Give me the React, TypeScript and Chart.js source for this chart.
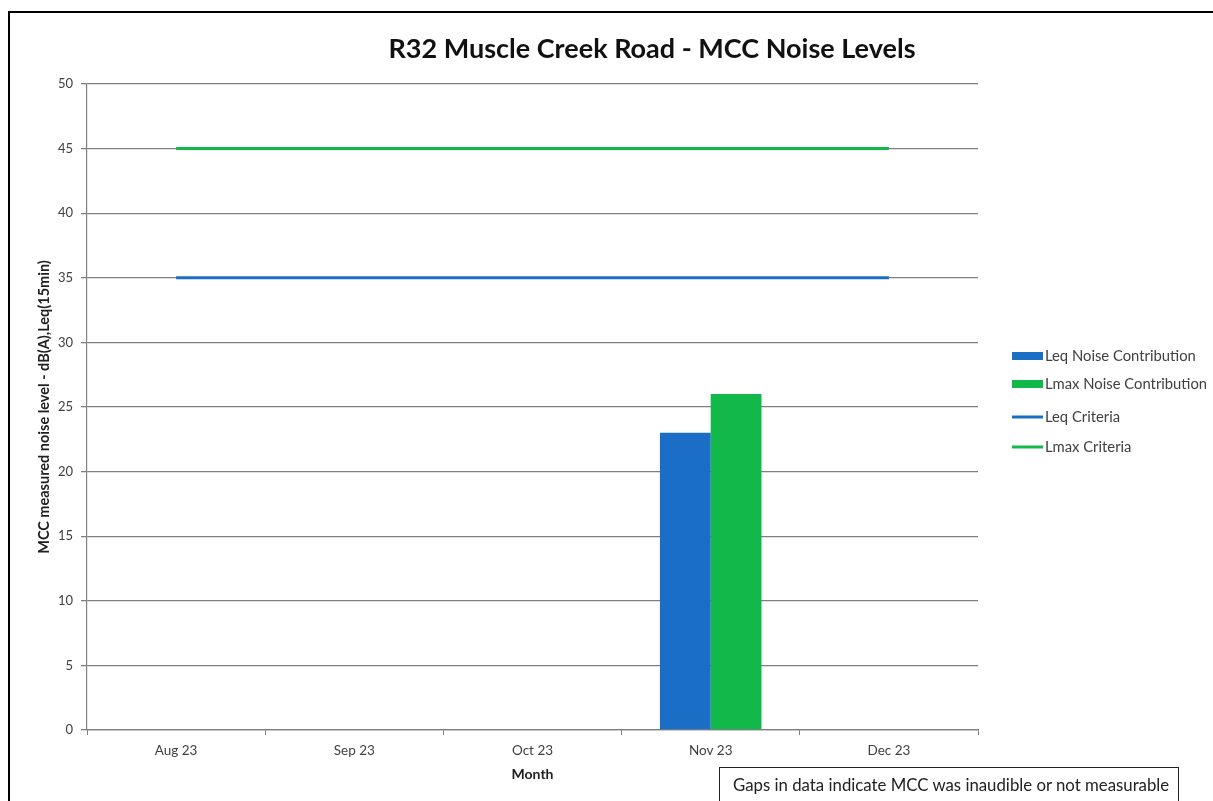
import React, { useEffect, useRef } from "react";
import { Chart, registerables } from "chart.js";

Chart.register(...registerables);

const months = ["Aug 23", "Sep 23", "Oct 23", "Nov 23", "Dec 23"];
const leqNoise = [null, null, null, 23, null];
const lmaxNoise = [null, null, null, 26, null];
const leqCriteria = [35, 35, 35, 35, 35];
const lmaxCriteria = [45, 45, 45, 45, 45];
const yTicks = [0, 5, 10, 15, 20, 25, 30, 35, 40, 45, 50];

const FONT = "Lato, 'Noto Sans', sans-serif";

const legendPlugin = {
  id: "sideLegend",
  afterDraw(chart: any) {
    const ctx = chart.ctx;
    const x0 = 1012;
    const ys = [356, 384, 417, 447];
    ctx.save();
    ctx.font = `14.8px ${FONT}`;
    ctx.textBaseline = "middle";
    chart.data.datasets.forEach((ds: any, i: number) => {
      const y = ys[i];
      if (ds.type === "line") {
        ctx.strokeStyle = ds.borderColor;
        ctx.lineWidth = 3;
        ctx.beginPath();
        ctx.moveTo(x0, y);
        ctx.lineTo(x0 + 31, y);
        ctx.stroke();
      } else {
        ctx.fillStyle = ds.backgroundColor;
        ctx.fillRect(x0, y - 4, 31, 8);
      }
      ctx.fillStyle = "#404040";
      ctx.fillText(ds.label, x0 + 33, y);
    });
    ctx.restore();
  },
};

export default function App() {
  const ref = useRef<HTMLCanvasElement | null>(null);

  useEffect(() => {
    if (!ref.current) return;
    const chart = new Chart(ref.current, {
      type: "bar",
      data: {
        labels: months,
        datasets: [
          {
            type: "bar",
            label: "Leq Noise Contribution",
            data: leqNoise,
            backgroundColor: "#1b6ec6",
            categoryPercentage: 0.57,
            barPercentage: 1.0,
            order: 2,
          },
          {
            type: "bar",
            label: "Lmax Noise Contribution",
            data: lmaxNoise,
            backgroundColor: "#13b84b",
            categoryPercentage: 0.57,
            barPercentage: 1.0,
            order: 2,
          },
          {
            type: "line",
            label: "Leq Criteria",
            data: leqCriteria,
            borderColor: "#1b6ec6",
            backgroundColor: "#1b6ec6",
            borderWidth: 3,
            pointRadius: 0,
            order: 1,
          },
          {
            type: "line",
            label: "Lmax Criteria",
            data: lmaxCriteria,
            borderColor: "#13b84b",
            backgroundColor: "#13b84b",
            borderWidth: 3,
            pointRadius: 0,
            order: 1,
          },
        ] as any,
      },
      options: {
        responsive: false,
        animation: false,
        devicePixelRatio: 1,
        layout: { padding: { top: 84, right: 235, left: 0, bottom: 0 } },
        plugins: {
          legend: { display: false },
          title: { display: false },
          tooltip: { enabled: false },
        },
        scales: {
          x: {
            offset: true,
            grid: {
              display: true,
              drawOnChartArea: false,
              offset: true,
              tickLength: 5,
              color: "#808080",
            },
            border: { color: "#808080", width: 1.2 },
            ticks: {
              color: "#404040",
              font: { family: FONT, size: 13.5 },
              padding: 8,
              maxRotation: 0,
            },
            title: {
              display: true,
              text: "Month",
              color: "#202020",
              font: { family: FONT, size: 14, weight: "bold" },
              padding: { top: 0, bottom: 18 },
            },
            afterFit: (scale: any) => {
              scale.height = 71;
            },
          },
          y: {
            min: 0,
            max: 50,
            afterBuildTicks: (scale: any) => {
              scale.ticks = yTicks.map((v) => ({ value: v }));
            },
            grid: {
              color: "#808080",
              tickLength: 6,
              lineWidth: 1.3,
            },
            border: { color: "#808080", width: 1.2 },
            ticks: {
              color: "#404040",
              font: { family: FONT, size: 13 },
              padding: 8,
            },
            title: {
              display: true,
              text: "MCC measured noise level - dB(A),Leq(15min)",
              color: "#202020",
              font: { family: FONT, size: 14.5, weight: "bold" },
              padding: { top: 36, bottom: 0 },
            },
            afterFit: (scale: any) => {
              scale.width = 87;
            },
          },
        },
      },
      plugins: [legendPlugin],
    });
    return () => chart.destroy();
  }, []);

  return (
    <div
      style={{
        position: "fixed",
        left: 0,
        top: 0,
        width: 1213,
        height: 801,
        overflow: "hidden",
        background: "#fff",
      }}
    >
      <div
        style={{
          position: "absolute",
          left: 8,
          top: 11,
          width: 1300,
          height: 900,
          borderTop: "2px solid #000",
          borderLeft: "2px solid #000",
        }}
      />
      <canvas
        ref={ref}
        width={1213}
        height={801}
        style={{ position: "absolute", left: 0, top: 0, width: 1213, height: 801 }}
      />
      <div
        style={{
          position: "absolute",
          left: 352,
          top: 29,
          width: 600,
          textAlign: "center",
          fontFamily: FONT,
          fontWeight: "bold",
          fontSize: 27,
          color: "#111",
          lineHeight: "38px",
        }}
      >
        R32 Muscle Creek Road - MCC Noise Levels
      </div>
      <div
        style={{
          position: "absolute",
          left: 719,
          top: 767,
          width: 460,
          height: 60,
          border: "1.5px solid #222",
          boxSizing: "border-box",
          fontFamily: FONT,
          fontSize: 16.8,
          color: "#222",
          paddingLeft: 13,
          paddingTop: 7,
          lineHeight: "20px",
          whiteSpace: "nowrap",
        }}
      >
        Gaps in data indicate MCC was inaudible or not measurable
      </div>
    </div>
  );
}
